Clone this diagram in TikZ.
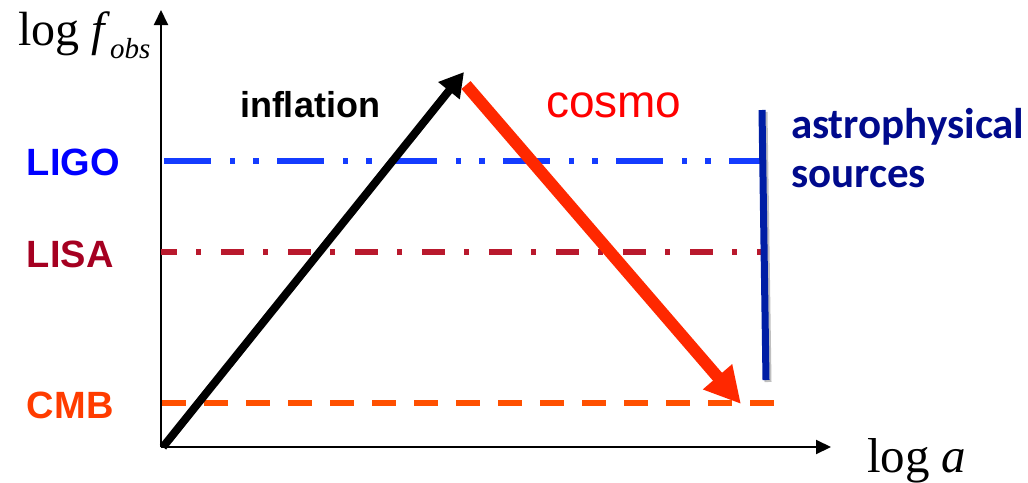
\documentclass[tikz,border=0pt]{standalone}
\usepackage{fontspec}
\setmainfont{Liberation Serif}
\newfontfamily\arial{Liberation Sans}
\newfontfamily\calib{Carlito}
\usetikzlibrary{arrows.meta}
\definecolor{ligoT}{RGB}{0,0,255}
\definecolor{ligoL}{RGB}{20,60,255}
\definecolor{lisaT}{RGB}{165,0,33}
\definecolor{lisaL}{RGB}{185,25,45}
\definecolor{cmbT}{RGB}{255,60,0}
\definecolor{cmbL}{RGB}{255,80,0}
\definecolor{navyT}{RGB}{0,10,140}
\definecolor{navyL}{RGB}{0,30,165}
\definecolor{cosmoR}{RGB}{255,40,0}
\tikzset{
  lbl/.style={anchor=base west, inner sep=0pt, outer sep=0pt},
  axis/.style={line width=2pt, -{Triangle[length=15pt,width=14pt]}},
}
\begin{document}
\begin{tikzpicture}[x=1pt,y=-1pt]
\useasboundingbox (0,0) rectangle (1028,482);
% axes
\coordinate (O) at (161,447);
\coordinate (ytop) at (161,10);
\coordinate (xend) at (831,447);
\draw[axis] (O) -- (ytop);
\draw[axis] (O) -- (xend);
% horizontal lines
\coordinate (ligoA) at (164,161);
\coordinate (ligoB) at (762,161);
\coordinate (lisaA) at (161,252);
\coordinate (lisaB) at (762,252);
\coordinate (cmbA) at (162,403);
\coordinate (cmbB) at (774,403);
\draw[ligoL, line width=6.5pt, dash pattern=on 47pt off 19pt on 5pt off 18pt on 6pt off 18pt] (ligoA) -- (ligoB);
\draw[lisaL, line width=6pt, dash pattern=on 23pt off 19pt on 5pt off 20pt, dash phase=7pt] (lisaA) -- (lisaB);
\draw[cmbL, line width=6pt, dash pattern=on 24pt off 18pt] (cmbA) -- (cmbB);
% astrophysical vertical
\coordinate (astA) at (762,110);
\coordinate (astB) at (766,380);
\draw[black!25, line width=7pt] ([shift={(2,2)}]astA) -- ([shift={(2,2)}]astB);
\draw[navyL, line width=7pt] (astA) -- (astB);
% inflation arrow
\coordinate (infA) at (163,447);
\coordinate (infB) at (464,72);
\draw[line width=8pt, -{Triangle[length=24pt,width=26pt]}] (infA) -- (infB);
% cosmo arrow
\coordinate (cosA) at (466,85);
\coordinate (cosB) at (741,404);
\draw[cosmoR, line width=12pt, -{Triangle[length=36pt,width=36pt]}] (cosA) -- (cosB);
% labels
\node[lbl] (yl) at (18,45) {\fontsize{48}{48}\selectfont log \textit{f}\raisebox{-13pt}{\fontsize{29}{29}\selectfont\itshape obs}};
\node[lbl] (xl) at (867,472) {\fontsize{49}{49}\selectfont log \textit{a}};
\node[lbl, text=ligoT] (ligo) at (27,175) {\arial\bfseries\fontsize{38}{38}\selectfont LIGO};
\node[lbl, text=lisaT] (lisa) at (27,267) {\arial\bfseries\fontsize{38}{38}\selectfont LISA};
\node[lbl, text=cmbT] (cmb) at (27,418) {\arial\bfseries\fontsize{38}{38}\selectfont CMB};
\node[lbl] (infl) at (240,117) {\arial\bfseries\fontsize{36}{36}\selectfont inflation};
\node[lbl, text=red] (cosmo) at (546,117) {\arial\fontsize{46}{46}\selectfont cosmo};
\node[lbl, text=navyT] (astro) at (791,138) {\calib\bfseries\fontsize{43}{43}\selectfont astrophysical};
\node[lbl, text=navyT] (src) at (791,187) {\calib\bfseries\fontsize{43}{43}\selectfont sources};
\end{tikzpicture}
\end{document}
